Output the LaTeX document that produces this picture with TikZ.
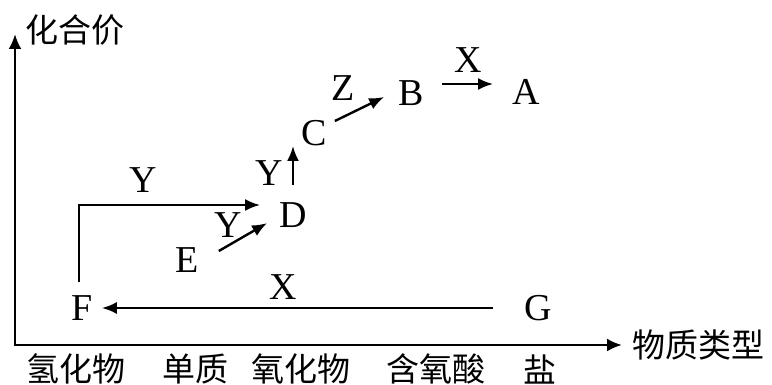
\documentclass[tikz,border=0pt]{standalone}
\usepackage{fontspec}
\setmainfont{Liberation Serif}
\newfontfamily\cjk{Noto Sans CJK SC}
\usetikzlibrary{arrows.meta}

\begin{document}
\begin{tikzpicture}[x=1pt,y=-1pt,
  lett/.style={inner sep=0pt,font=\fontsize{38}{40}\selectfont},
  zh/.style={inner sep=0pt,font=\cjk\fontsize{33}{36}\selectfont},
  conv/.style={line width=2.4pt,-{Latex[length=15pt,width=12pt]}}]
\useasboundingbox (0,0) rectangle (772,385);
% axes
\coordinate (ytop) at (15,34);
\coordinate (O) at (15,345);
\coordinate (xend) at (622,345);
\draw[line width=2.5pt,{Latex[length=15pt,width=13pt]}-{Latex[length=15pt,width=13pt]}] (ytop) -- (O) -- (xend);
\node[zh,anchor=west] (val) at (25,30) {化合价};
\node[zh,anchor=west] (kind) at (632,345) {物质类型};
\node[zh] (hyd) at (76,369) {氢化物};
\node[zh] (elem) at (195,369) {单质};
\node[zh] (oxi) at (301,369) {氧化物};
\node[zh] (acid) at (436,369) {含氧酸};
\node[zh] (salt) at (540,369) {盐};
% substances
\node[lett] (A) at (526,92) {A};
\node[lett] (B) at (411,93) {B};
\node[lett] (C) at (314,133) {C};
\node[lett] (D) at (293,215) {D};
\node[lett] (E) at (187,260) {E};
\node[lett] (F) at (82,308) {F};
\node[lett] (G) at (538,308) {G};
% conversions
\draw[conv,shorten <=31pt,shorten >=9pt] (G) -- (F);
\draw[conv,shorten <=13pt,shorten >=19pt] ([xshift=-3pt]F.north) |- ([yshift=10pt]D.west);
\draw[conv] ([xshift=20pt,yshift=9pt]E.east) -- ([xshift=-12pt,yshift=4.6pt]D.south west);
\draw[conv,shorten <=17pt] (D.north) -- (D.north |- C.south);
\draw[conv] ([xshift=8pt,yshift=12pt]C.east) -- ([xshift=-14pt,yshift=-4pt]B.west);
\draw[conv,shorten <=18pt,shorten >=19pt] ([yshift=9pt]B.east) -- ([yshift=8pt]A.west);
% reagents
\node[lett] (xBA) at (468,60) {X};
\node[lett] (zCB) at (343,88) {Z};
\node[lett] (yDC) at (269,173) {Y};
\node[lett] (yFD) at (143,180) {Y};
\node[lett] (yED) at (228,225) {Y};
\node[lett] (xGF) at (283,287) {X};
\end{tikzpicture}
\end{document}
